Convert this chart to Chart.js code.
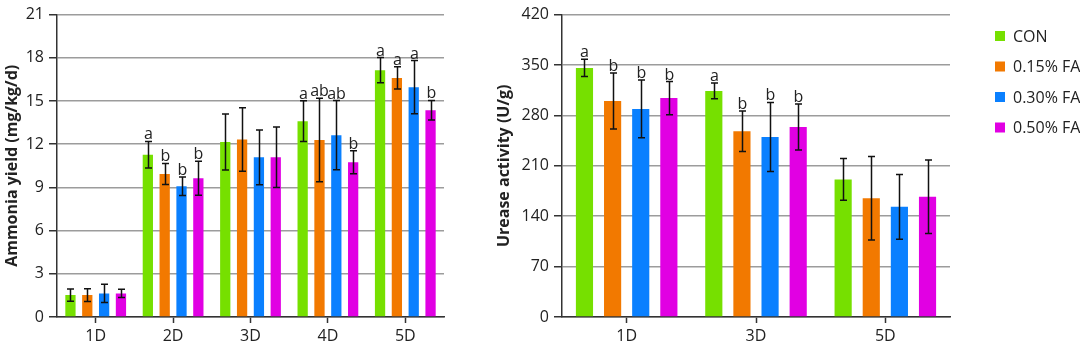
<!DOCTYPE html>
<html>
<head>
    <title>Ammonia yield and urease activity</title>
    <script src="https://cdn.jsdelivr.net/npm/chart.js@4.4.0/dist/chart.umd.min.js"></script>
    <style>
        * {
            margin: 0;
            padding: 0;
            box-sizing: border-box;
        }

        body {
            background: #fff;
            width: 1080px;
            height: 350px;
            position: relative;
            overflow: hidden;
            font-family: "Open Sans", "Noto Sans", Arial, sans-serif;
        }

        .panel {
            position: absolute;
            top: 0;
            height: 350px;
        }

        #leftPanel { left: 0; width: 465px; }
        #rightPanel { left: 470px; width: 610px; }
    </style>
</head>
<body>
    <div class="panel" id="leftPanel"><canvas id="ammoniaChart"></canvas></div>
    <div class="panel" id="rightPanel"><canvas id="ureaseChart"></canvas></div>

    <script>
        // Series labels and colours
        const groups = ['CON', '0.15% FA', '0.30% FA', '0.50% FA'];
        const groupColors = ['#76e000', '#f27900', '#0a80ff', '#e100e3'];

        // Ammonia yield (mg/kg/d)
        const ammoniaDays = ['1D', '2D', '3D', '4D', '5D'];
        const ammoniaTicks = [0, 3, 6, 9, 12, 15, 18, 21];
        const ammoniaCon = [1.52, 11.27, 12.15, 13.6, 17.14];
        const ammoniaFa15 = [1.52, 9.93, 12.33, 12.29, 16.6];
        const ammoniaFa30 = [1.64, 9.08, 11.09, 12.63, 15.96];
        const ammoniaFa50 = [1.64, 9.63, 11.09, 10.74, 14.36];
        const ammoniaConErr = [0.43, 0.92, 1.95, 1.42, 0.88];
        const ammoniaFa15Err = [0.44, 0.73, 2.2, 2.9, 0.77];
        const ammoniaFa30Err = [0.63, 0.65, 1.9, 2.4, 1.85];
        const ammoniaFa50Err = [0.29, 1.18, 2.1, 0.8, 0.68];
        const ammoniaConSig = ['', 'a', '', 'a', 'a'];
        const ammoniaFa15Sig = ['', 'b', '', 'ab', 'a'];
        const ammoniaFa30Sig = ['', 'b', '', 'ab', 'a'];
        const ammoniaFa50Sig = ['', 'b', '', 'b', 'b'];

        // Urease activity (U/g)
        const ureaseDays = ['1D', '3D', '5D'];
        const ureaseTicks = [0, 70, 140, 210, 280, 350, 420];
        const ureaseCon = [346, 314, 191];
        const ureaseFa15 = [300, 258, 165];
        const ureaseFa30 = [289, 250, 153];
        const ureaseFa50 = [304, 264, 167];
        const ureaseConErr = [12, 11, 29];
        const ureaseFa15Err = [39, 28, 58];
        const ureaseFa30Err = [40, 48, 45];
        const ureaseFa50Err = [23, 32, 51];
        const ureaseConSig = ['a', 'a', ''];
        const ureaseFa15Sig = ['b', 'b', ''];
        const ureaseFa30Sig = ['b', 'b', ''];
        const ureaseFa50Sig = ['b', 'b', ''];

        const FONT = '"Open Sans", "Noto Sans", Arial, sans-serif';
        const TEXT = '#222';
        const AXIS = '#333';
        const GRID = '#9c9c9c';

        // error bars + significance letters, drawn from the value scale
        const errorBars = {
            id: 'errorBars',
            afterDatasetsDraw(chart) {
                const ctx = chart.ctx;
                const yScale = chart.scales.y;
                chart.data.datasets.forEach((ds, i) => {
                    const meta = chart.getDatasetMeta(i);
                    meta.data.forEach((bar, j) => {
                        const v = ds.data[j];
                        const e = ds.errors[j];
                        const yTop = yScale.getPixelForValue(v + e);
                        const yBot = yScale.getPixelForValue(v - e);
                        const x = Math.round(bar.x) + 0.5;
                        ctx.save();
                        ctx.strokeStyle = '#111';
                        ctx.lineWidth = 1.5;
                        ctx.beginPath();
                        ctx.moveTo(x, yTop);
                        ctx.lineTo(x, yBot);
                        ctx.moveTo(x - 3.5, yTop);
                        ctx.lineTo(x + 3.5, yTop);
                        ctx.moveTo(x - 3.5, yBot);
                        ctx.lineTo(x + 3.5, yBot);
                        ctx.stroke();
                        const sig = ds.sig[j];
                        if (sig) {
                            ctx.fillStyle = TEXT;
                            ctx.font = '16px ' + FONT;
                            ctx.textAlign = 'center';
                            ctx.textBaseline = 'alphabetic';
                            ctx.fillText(sig, x, yTop - 2);
                        }
                        ctx.restore();
                    });
                });
            }
        };

        // legend column on the right of the urease chart
        const sideLegend = {
            id: 'sideLegend',
            afterDraw(chart) {
                if (!chart.options.plugins.sideLegend) return;
                const ctx = chart.ctx;
                const x0 = chart.chartArea.right + 45;
                ctx.save();
                ctx.font = '16px ' + FONT;
                ctx.textBaseline = 'middle';
                ctx.textAlign = 'left';
                chart.data.datasets.forEach((ds, i) => {
                    const y = 36 + i * 30.5;
                    ctx.fillStyle = ds.backgroundColor;
                    ctx.fillRect(x0, y - 5, 10, 10);
                    ctx.fillStyle = TEXT;
                    ctx.fillText(ds.label, x0 + 18, y + 1);
                });
                ctx.restore();
            }
        };

        function makeDatasets(values, errors, sigs) {
            return groups.map((g, i) => ({
                label: g,
                data: values[i],
                errors: errors[i],
                sig: sigs[i],
                backgroundColor: groupColors[i],
                borderWidth: 0,
                categoryPercentage: 0.87,
                barPercentage: 0.61
            }));
        }

        function makeOptions(ticks, title, yWidth, padding, legend) {
            return {
                responsive: true,
                maintainAspectRatio: false,
                animation: false,
                layout: { padding: padding },
                plugins: {
                    legend: { display: false },
                    tooltip: { enabled: false },
                    sideLegend: legend
                },
                scales: {
                    x: {
                        afterFit(scale) { scale.height = 33; },
                        grid: {
                            display: true,
                            drawOnChartArea: false,
                            drawTicks: true,
                            offset: false,
                            tickLength: 6,
                            tickWidth: 1.5,
                            tickColor: AXIS
                        },
                        border: { color: AXIS, width: 1.5 },
                        ticks: {
                            color: TEXT,
                            padding: 4,
                            font: { family: FONT, size: 16 }
                        }
                    },
                    y: {
                        min: ticks[0],
                        max: ticks[ticks.length - 1],
                        afterFit(scale) { scale.width = yWidth; },
                        afterBuildTicks(scale) {
                            scale.ticks = ticks.map(v => ({ value: v }));
                        },
                        grid: {
                            color: GRID,
                            lineWidth: 1.5,
                            tickLength: 8,
                            tickColor: AXIS,
                            tickWidth: 1.5
                        },
                        border: { color: AXIS, width: 1.5 },
                        ticks: {
                            color: TEXT,
                            padding: 5,
                            font: { family: FONT, size: 16 }
                        },
                        title: {
                            display: true,
                            text: title,
                            color: TEXT,
                            padding: { top: 3, bottom: 3 },
                            font: { family: FONT, size: 16, weight: 'bold' }
                        }
                    }
                }
            };
        }

        new Chart(document.getElementById('ammoniaChart'), {
            type: 'bar',
            data: {
                labels: ammoniaDays,
                datasets: makeDatasets(
                    [ammoniaCon, ammoniaFa15, ammoniaFa30, ammoniaFa50],
                    [ammoniaConErr, ammoniaFa15Err, ammoniaFa30Err, ammoniaFa50Err],
                    [ammoniaConSig, ammoniaFa15Sig, ammoniaFa30Sig, ammoniaFa50Sig]
                )
            },
            options: makeOptions(ammoniaTicks, 'Ammonia yield (mg/kg/d)', 57,
                { top: 14, right: 21, left: 0, bottom: 0 }, false),
            plugins: [errorBars]
        });

        new Chart(document.getElementById('ureaseChart'), {
            type: 'bar',
            data: {
                labels: ureaseDays,
                datasets: makeDatasets(
                    [ureaseCon, ureaseFa15, ureaseFa30, ureaseFa50],
                    [ureaseConErr, ureaseFa15Err, ureaseFa30Err, ureaseFa50Err],
                    [ureaseConSig, ureaseFa15Sig, ureaseFa30Sig, ureaseFa50Sig]
                )
            },
            options: makeOptions(ureaseTicks, 'Urease activity (U/g)', 70,
                { top: 14, right: 130, left: 22, bottom: 0 }, true),
            plugins: [errorBars, sideLegend]
        });
    </script>
</body>
</html>
